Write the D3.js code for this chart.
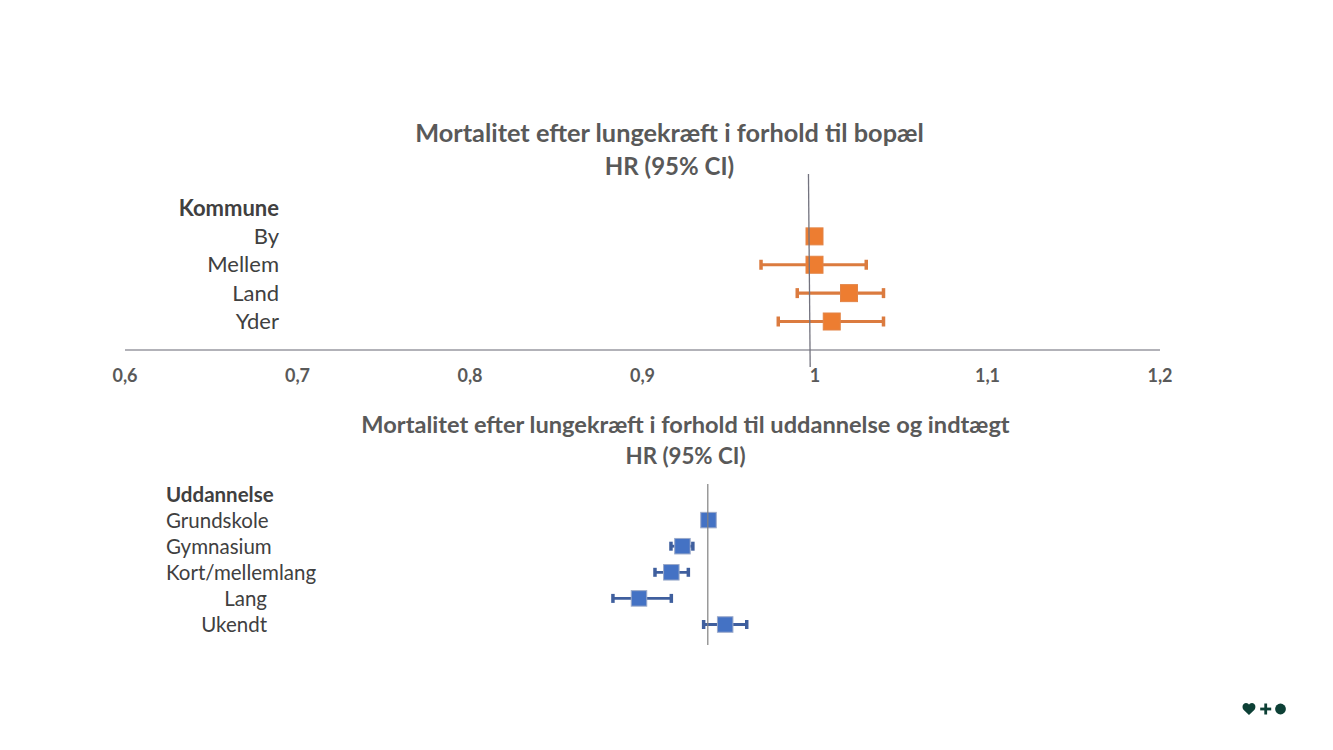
<!DOCTYPE html>
<html>
<head>
<meta charset="utf-8">
<script src="https://cdn.jsdelivr.net/npm/d3@7"></script>
<style>
  html, body { margin: 0; background: #fff; }
  svg { display: block; }
  text { font-family: Lato, "Open Sans", sans-serif; }
</style>
</head>
<body>
<div id="chart"></div>
<script>
///////////////////////////////////////////////////////////////////////////
// Data
///////////////////////////////////////////////////////////////////////////
const bopaelRows = ["Kommune", "By", "Mellem", "Land", "Yder"];
const bopaelCategories = ["By", "Mellem", "Land", "Yder"];
const bopaelHR = [1.0, 1.0, 1.02, 1.01];
const bopaelLow = [1.0, 0.969, 0.99, 0.979];
const bopaelHigh = [1.0, 1.03, 1.04, 1.04];
const bopaelTicks = [0.6, 0.7, 0.8, 0.9, 1, 1.1, 1.2];
const bopaelRefTop = 0.9965;
const bopaelRefBottom = 0.9975;

const uddRows = ["Uddannelse", "Grundskole", "Gymnasium", "Kort/mellemlang", "Lang", "Ukendt"];
const uddCategories = ["Grundskole", "Gymnasium", "Kort/mellemlang", "Lang", "Ukendt"];
const uddHR = [1.0, 0.925, 0.893, 0.8, 1.048];
const uddLow = [1.0, 0.892, 0.846, 0.725, 0.986];
const uddHigh = [1.0, 0.955, 0.942, 0.893, 1.11];
const uddRef = 0.998;

///////////////////////////////////////////////////////////////////////////
// Set up the SVG
///////////////////////////////////////////////////////////////////////////
const width = 1333, height = 750;
const svg = d3.select("#chart").append("svg")
  .attr("width", width)
  .attr("height", height)
  .attr("viewBox", `0 0 ${width} ${height}`);

const titleColor = "#595959";
const labelColor = "#404040";

function addTitle(text, x, y, size) {
  svg.append("text")
    .attr("x", x).attr("y", y)
    .attr("text-anchor", "middle")
    .attr("font-size", size)
    .attr("font-weight", 700)
    .attr("fill", titleColor)
    .text(text);
}

// whiskers for one panel
function drawIntervals(x, y, cats, low, high, o) {
  const g = svg.append("g");
  cats.forEach((c, i) => {
    if (low[i] !== high[i]) {
      g.append("line")
        .attr("x1", x(low[i])).attr("x2", x(high[i]))
        .attr("y1", y(c)).attr("y2", y(c))
        .attr("stroke", o.whisker).attr("stroke-width", o.lineW);
      [low[i], high[i]].forEach(v => {
        g.append("line")
          .attr("x1", x(v)).attr("x2", x(v))
          .attr("y1", y(c) - o.cap).attr("y2", y(c) + o.cap)
          .attr("stroke", o.whisker).attr("stroke-width", 3.5);
      });
    }
  });
  return g;
}

function drawMarkers(g, x, y, cats, hr, o) {
  g.selectAll("rect.marker")
    .data(cats)
    .join("rect")
    .attr("class", "marker")
    .attr("x", (c, i) => x(hr[i]) - o.size / 2)
    .attr("y", c => y(c) - o.size / 2)
    .attr("width", o.size)
    .attr("height", o.size)
    .attr("fill", o.fill)
    .attr("stroke", o.border)
    .attr("stroke-width", 1);
}

///////////////////////////////////////////////////////////////////////////
// Top panel: bopael
///////////////////////////////////////////////////////////////////////////
addTitle("Mortalitet efter lungekræft i forhold til bopæl", 669.5, 142, 25.3);
addTitle("HR (95% CI)", 669.5, 174.5, 24);

const x1 = d3.scaleLinear().domain([0.6, 1.2]).range([124.5, 1159.5]);
const y1 = d3.scalePoint().domain(bopaelRows).range([208, 321.5]);

svg.selectAll("text.row1")
  .data(bopaelRows)
  .join("text")
  .attr("class", "row1")
  .attr("x", 279)
  .attr("y", d => y1(d) + 7.5)
  .attr("text-anchor", "end")
  .attr("font-size", 22)
  .attr("font-weight", (d, i) => i === 0 ? 700 : 400)
  .attr("fill", labelColor)
  .text(d => d);

const axis1 = svg.append("g")
  .attr("transform", "translate(0,349.5)")
  .call(d3.axisBottom(x1)
    .tickValues(bopaelTicks)
    .tickSize(0)
    .tickPadding(20)
    .tickFormat(d => String(d).replace(".", ",")));
axis1.select(".domain").attr("stroke", "#666672").attr("stroke-width", 1.2);
axis1.selectAll("text")
  .attr("font-family", "Lato, sans-serif")
  .attr("font-size", 18)
  .attr("font-weight", 700)
  .attr("fill", titleColor);

const orange = { whisker: "#DB7B3F", lineW: 3.2, cap: 5, size: 17, fill: "#ED7D31", border: "#E38446" };
const topG = drawIntervals(x1, y1, bopaelCategories, bopaelLow, bopaelHigh, orange);

drawMarkers(topG, x1, y1, bopaelCategories, bopaelHR, orange);

svg.append("line")
  .attr("x1", x1(bopaelRefTop)).attr("x2", x1(bopaelRefBottom))
  .attr("y1", 174).attr("y2", 367)
  .attr("stroke", "#73737f").attr("stroke-width", 1.3);

///////////////////////////////////////////////////////////////////////////
// Bottom panel: uddannelse
///////////////////////////////////////////////////////////////////////////
addTitle("Mortalitet efter lungekræft i forhold til uddannelse og indtægt", 685.5, 433, 23.6);
addTitle("HR (95% CI)", 685.5, 464, 22.3);

const x2 = d3.scaleLinear().domain([0.8, 1]).range([639, 708.5]);
const y2 = d3.scalePoint().domain(uddRows).range([494, 624.5]);

svg.selectAll("text.row2")
  .data(uddRows)
  .join("text")
  .attr("class", "row2")
  .attr("x", (d, i) => i < 4 ? 166 : 267)
  .attr("y", d => y2(d) + 7.5)
  .attr("text-anchor", (d, i) => i < 4 ? "start" : "end")
  .attr("font-size", 20.5)
  .attr("font-weight", (d, i) => i === 0 ? 700 : 400)
  .attr("fill", labelColor)
  .text(d => d);

const blue = { whisker: "#3F5F9E", lineW: 2.8, cap: 4.5, size: 15.5, fill: "#4472C4", border: "#9AA9C9" };
const botG = drawIntervals(x2, y2, uddCategories, uddLow, uddHigh, blue);

drawMarkers(botG, x2, y2, uddCategories, uddHR, blue);

svg.append("line")
  .attr("x1", x2(uddRef)).attr("x2", x2(uddRef))
  .attr("y1", 484).attr("y2", 645)
  .attr("stroke", "#808080").attr("stroke-width", 1.2);

///////////////////////////////////////////////////////////////////////////
// Logo
///////////////////////////////////////////////////////////////////////////
const logoColor = "#0D4036";
const logo = svg.append("g").attr("transform", "translate(1242.5,703)").attr("fill", logoColor);
logo.append("path")
  .attr("d", "M6.5,12 L1,6.8 C-1,4 0.3,0 3.5,0 C5,0 6,0.8 6.5,1.8 C7,0.8 8,0 9.5,0 C12.7,0 14,4 12,6.8 Z");
logo.append("rect").attr("x", 21.8).attr("y", 0.5).attr("width", 2.8).attr("height", 11);
logo.append("rect").attr("x", 17.7).attr("y", 4.6).attr("width", 11).attr("height", 2.8);
logo.append("circle").attr("cx", 38).attr("cy", 6).attr("r", 5.4);
</script>
</body>
</html>
